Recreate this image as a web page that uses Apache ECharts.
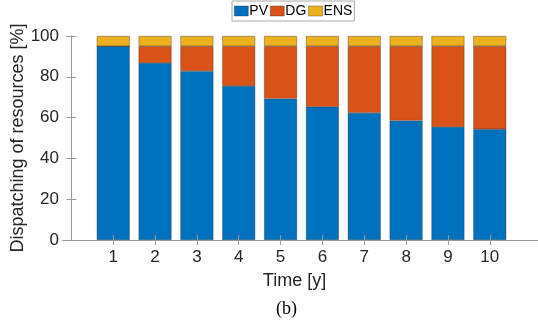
<!DOCTYPE html>
<html>
<head>
<meta charset="utf-8">
<script src="https://cdn.jsdelivr.net/npm/echarts@6/dist/echarts.min.js"></script>
<style>
html,body{margin:0;padding:0;background:#fff;}
#chart{width:538px;height:326px;}
</style>
</head>
<body>
<div id="chart"></div>
<script>
const years = [1, 2, 3, 4, 5, 6, 7, 8, 9, 10];
const pv  = [95.0, 86.8, 82.8, 75.5, 69.3, 65.3, 62.3, 58.5, 55.4, 54.3];
const dg  = [0.0, 8.2, 12.2, 19.5, 25.7, 29.7, 32.7, 36.5, 39.6, 40.7];
const ens = [5.0, 5.0, 5.0, 5.0, 5.0, 5.0, 5.0, 5.0, 5.0, 5.0];
const yTicks = [0, 20, 40, 60, 80, 100];

const seriesNames = ['PV', 'DG', 'ENS'];
const seriesData = [pv, dg, ens];
const colors = ['#0072BD', '#D95319', '#EDB120'];

const axisGray = '#9a9a9a';
const textColor = '#262626';
const font = 'Liberation Sans, Arial, Helvetica, sans-serif';

const chart = echarts.init(document.getElementById('chart'), null, {renderer: 'canvas'});

const series = seriesNames.map((name, i) => ({
  name: name,
  type: 'bar',
  stack: 'total',
  barWidth: 33,
  encode: {x: 1, y: 0},
  itemStyle: {color: colors[i], borderColor: 'rgba(40,40,40,0.6)', borderWidth: 0.6},
  emphasis: {disabled: true},
  data: years.map((y, k) => [seriesData[i][k], y])
}));

chart.setOption({
  animation: false,
  backgroundColor: '#fff',
  color: colors,
  textStyle: {fontFamily: font},
  legend: {
    data: seriesNames,
    left: 232, top: 1,
    itemWidth: 14, itemHeight: 10, itemGap: 2,
    padding: [3, 2, 3, 2],
    borderColor: '#aaaaaa', borderWidth: 1,
    textStyle: {fontSize: 14, color: '#000', fontFamily: font, padding: [0, 0, 0, -4]},
    icon: 'rect',
    itemStyle: {borderColor: 'rgba(40,40,40,0.6)', borderWidth: 0.6}
  },
  grid: {left: 63, right: -2, top: 36, bottom: 86, containLabel: false, outerBoundsMode: 'none'},
  xAxis: [{
    type: 'value', min: -0.2, max: 11.2, position: 'bottom', z: 10,
    name: 'Time [y]', nameLocation: 'middle', nameGap: 32, nameMoveOverlap: false,
    nameTextStyle: {fontSize: 18, color: textColor, fontFamily: font, padding: [0, 14, 0, 0]},
    axisLine: {show: true, lineStyle: {color: axisGray, width: 1}},
    axisTick: {show: true, inside: true, length: 5, customValues: years, lineStyle: {color: axisGray}},
    axisLabel: {customValues: years, fontSize: 17, color: textColor, margin: 9, fontFamily: font},
    splitLine: {show: false}
  }, {
    type: 'value', min: -0.2, max: 11.2, position: 'top', z: 10,
    axisLine: {show: true, lineStyle: {color: axisGray, width: 1}},
    axisTick: {show: true, inside: true, length: 5, customValues: years, lineStyle: {color: axisGray}},
    axisLabel: {show: false},
    splitLine: {show: false}
  }],
  yAxis: [{
    type: 'value', min: 0, max: 100, interval: 20, position: 'left', z: 10,
    name: 'Dispatching of resources [%]', nameLocation: 'middle', nameGap: 36, nameMoveOverlap: false,
    nameTextStyle: {fontSize: 18, color: textColor, fontFamily: font},
    axisLine: {show: true, lineStyle: {color: axisGray, width: 1}},
    axisTick: {show: true, inside: true, length: 5, lineStyle: {color: axisGray}},
    axisLabel: {fontSize: 17, color: textColor, margin: 4, fontFamily: font},
    splitLine: {show: false}
  }, {
    type: 'value', min: 0, max: 100, interval: 20, position: 'right', z: 10,
    axisLine: {show: true, lineStyle: {color: axisGray, width: 1}},
    axisTick: {show: true, inside: true, length: 5, lineStyle: {color: axisGray}},
    axisLabel: {show: false},
    splitLine: {show: false}
  }],
  graphic: [{
    type: 'text', left: 276, top: 300,
    style: {text: '(b)', fontSize: 18, fill: '#000', fontFamily: 'Liberation Serif, Times New Roman, serif'}
  }],
  series: series
});
</script>
</body>
</html>
